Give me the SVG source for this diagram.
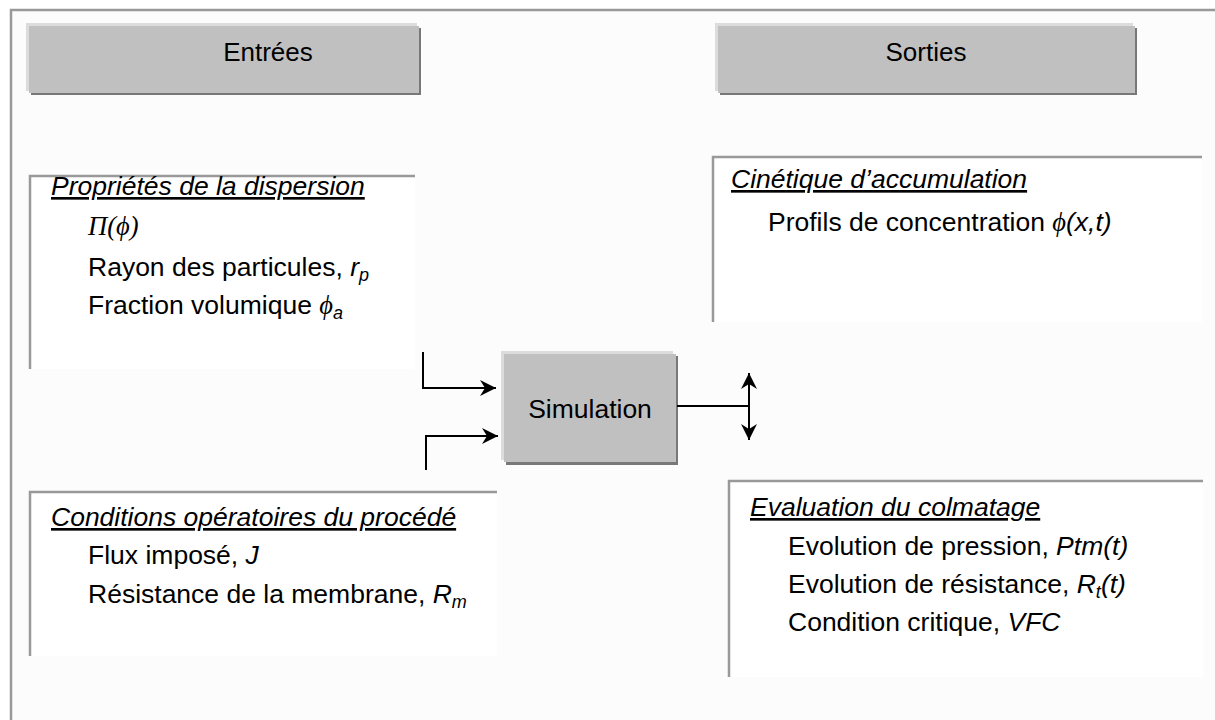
<svg xmlns="http://www.w3.org/2000/svg" width="1215" height="720" viewBox="0 0 1215 720">
<defs>
<style>
.t{font-family:"Liberation Sans",Arial,sans-serif;font-size:26.5px;fill:#000}
.hd{font-family:"Liberation Sans",Arial,sans-serif;font-size:26px;fill:#000;text-anchor:middle}
.it{font-style:italic}
.u{text-decoration:underline}
.sym{font-family:"Liberation Serif","Times New Roman",serif;font-style:italic}
.sub{font-size:18px;font-style:italic}
.edge{stroke:#999;stroke-width:2.5;fill:none}
.box{fill:#fff}
.hl{fill:#dcdcdc}
.sh{fill:#787878}
.body{fill:#c0c0c0}
.conn{stroke:#000;stroke-width:2;fill:none}
</style>
<marker id="ah" markerWidth="17" markerHeight="16" refX="16" refY="8" orient="auto-start-reverse" markerUnits="userSpaceOnUse">
<path d="M0,0 L16,8 L0,16 L5,8 Z" fill="#000"/>
</marker>
</defs>
<rect x="0" y="0" width="1215" height="720" fill="#fff"/>
<rect x="11" y="10" width="1204" height="710" fill="#fcfcfc"/>
<path class="edge" d="M11,720 V10 H1215"/>

<g id="entrees">
<rect class="hl" x="26" y="23" width="391" height="68"/>
<rect class="sh" x="31" y="28" width="390" height="67"/>
<rect class="body" x="29" y="26" width="390" height="67"/>
<text class="hd" x="268" y="61">Entrées</text>
</g>

<g id="sorties">
<rect class="hl" x="715" y="23" width="418" height="68"/>
<rect class="sh" x="720" y="28" width="417" height="67"/>
<rect class="body" x="718" y="26" width="417" height="67"/>
<text class="hd" x="926" y="61">Sorties</text>
</g>

<g id="proprietes">
<rect class="box" x="29" y="176" width="386" height="193"/>
<path class="edge" d="M30,369 V176 H415"/>
<text class="t it u" x="51" y="195">Propriétés de la dispersion</text>
<text class="t sym" x="88" y="235">Π(ϕ)</text>
<text class="t" x="88" y="276">Rayon des particules, <tspan class="it">r</tspan><tspan class="sub" dy="5">p</tspan></text>
<text class="t" x="88" y="314">Fraction volumique <tspan class="sym">ϕ</tspan><tspan class="sub" dy="5">a</tspan></text>
</g>

<g id="cinetique">
<rect class="box" x="712" y="157" width="490" height="165"/>
<path class="edge" d="M713,322 V157 H1202"/>
<text class="t it u" x="731" y="188">Cinétique d’accumulation</text>
<text class="t" x="768" y="231">Profils de concentration <tspan class="sym">ϕ</tspan><tspan class="it">(x,t)</tspan></text>
</g>

<g id="simulation">
<rect class="hl" x="501" y="351" width="172" height="109"/>
<rect class="sh" x="506" y="356" width="172" height="109"/>
<rect class="body" x="504" y="354" width="172" height="108"/>
<text class="t" x="590" y="418" text-anchor="middle">Simulation</text>
</g>

<g id="conditions">
<rect class="box" x="29" y="492" width="468" height="164"/>
<path class="edge" d="M30,656 V492 H497"/>
<text class="t it u" x="51" y="526">Conditions opératoires du procédé</text>
<text class="t" x="88" y="564">Flux imposé, <tspan class="it">J</tspan></text>
<text class="t" x="88" y="603">Résistance de la membrane, <tspan class="it">R</tspan><tspan class="sub" dy="5">m</tspan></text>
</g>

<g id="evaluation">
<rect class="box" x="728" y="481" width="475" height="196"/>
<path class="edge" d="M729,677 V481 H1203"/>
<text class="t it u" x="750" y="516">Evaluation du colmatage</text>
<text class="t" x="788" y="555">Evolution de pression, <tspan class="it">Ptm(t)</tspan></text>
<text class="t" x="788" y="593">Evolution de résistance, <tspan class="it">R</tspan><tspan class="sub" dy="5">t</tspan><tspan class="it" dy="-5">(t)</tspan></text>
<text class="t" x="788" y="631">Condition critique, <tspan class="it">VFC</tspan></text>
</g>

<g id="connectors">
<path class="conn" d="M423,352 V388 H496" marker-end="url(#ah)"/>
<path class="conn" d="M426,470 V436 H498" marker-end="url(#ah)"/>
<path class="conn" d="M677,406 H749"/>
<path class="conn" d="M749,373 V440" marker-start="url(#ah)" marker-end="url(#ah)"/>
</g>
</svg>
